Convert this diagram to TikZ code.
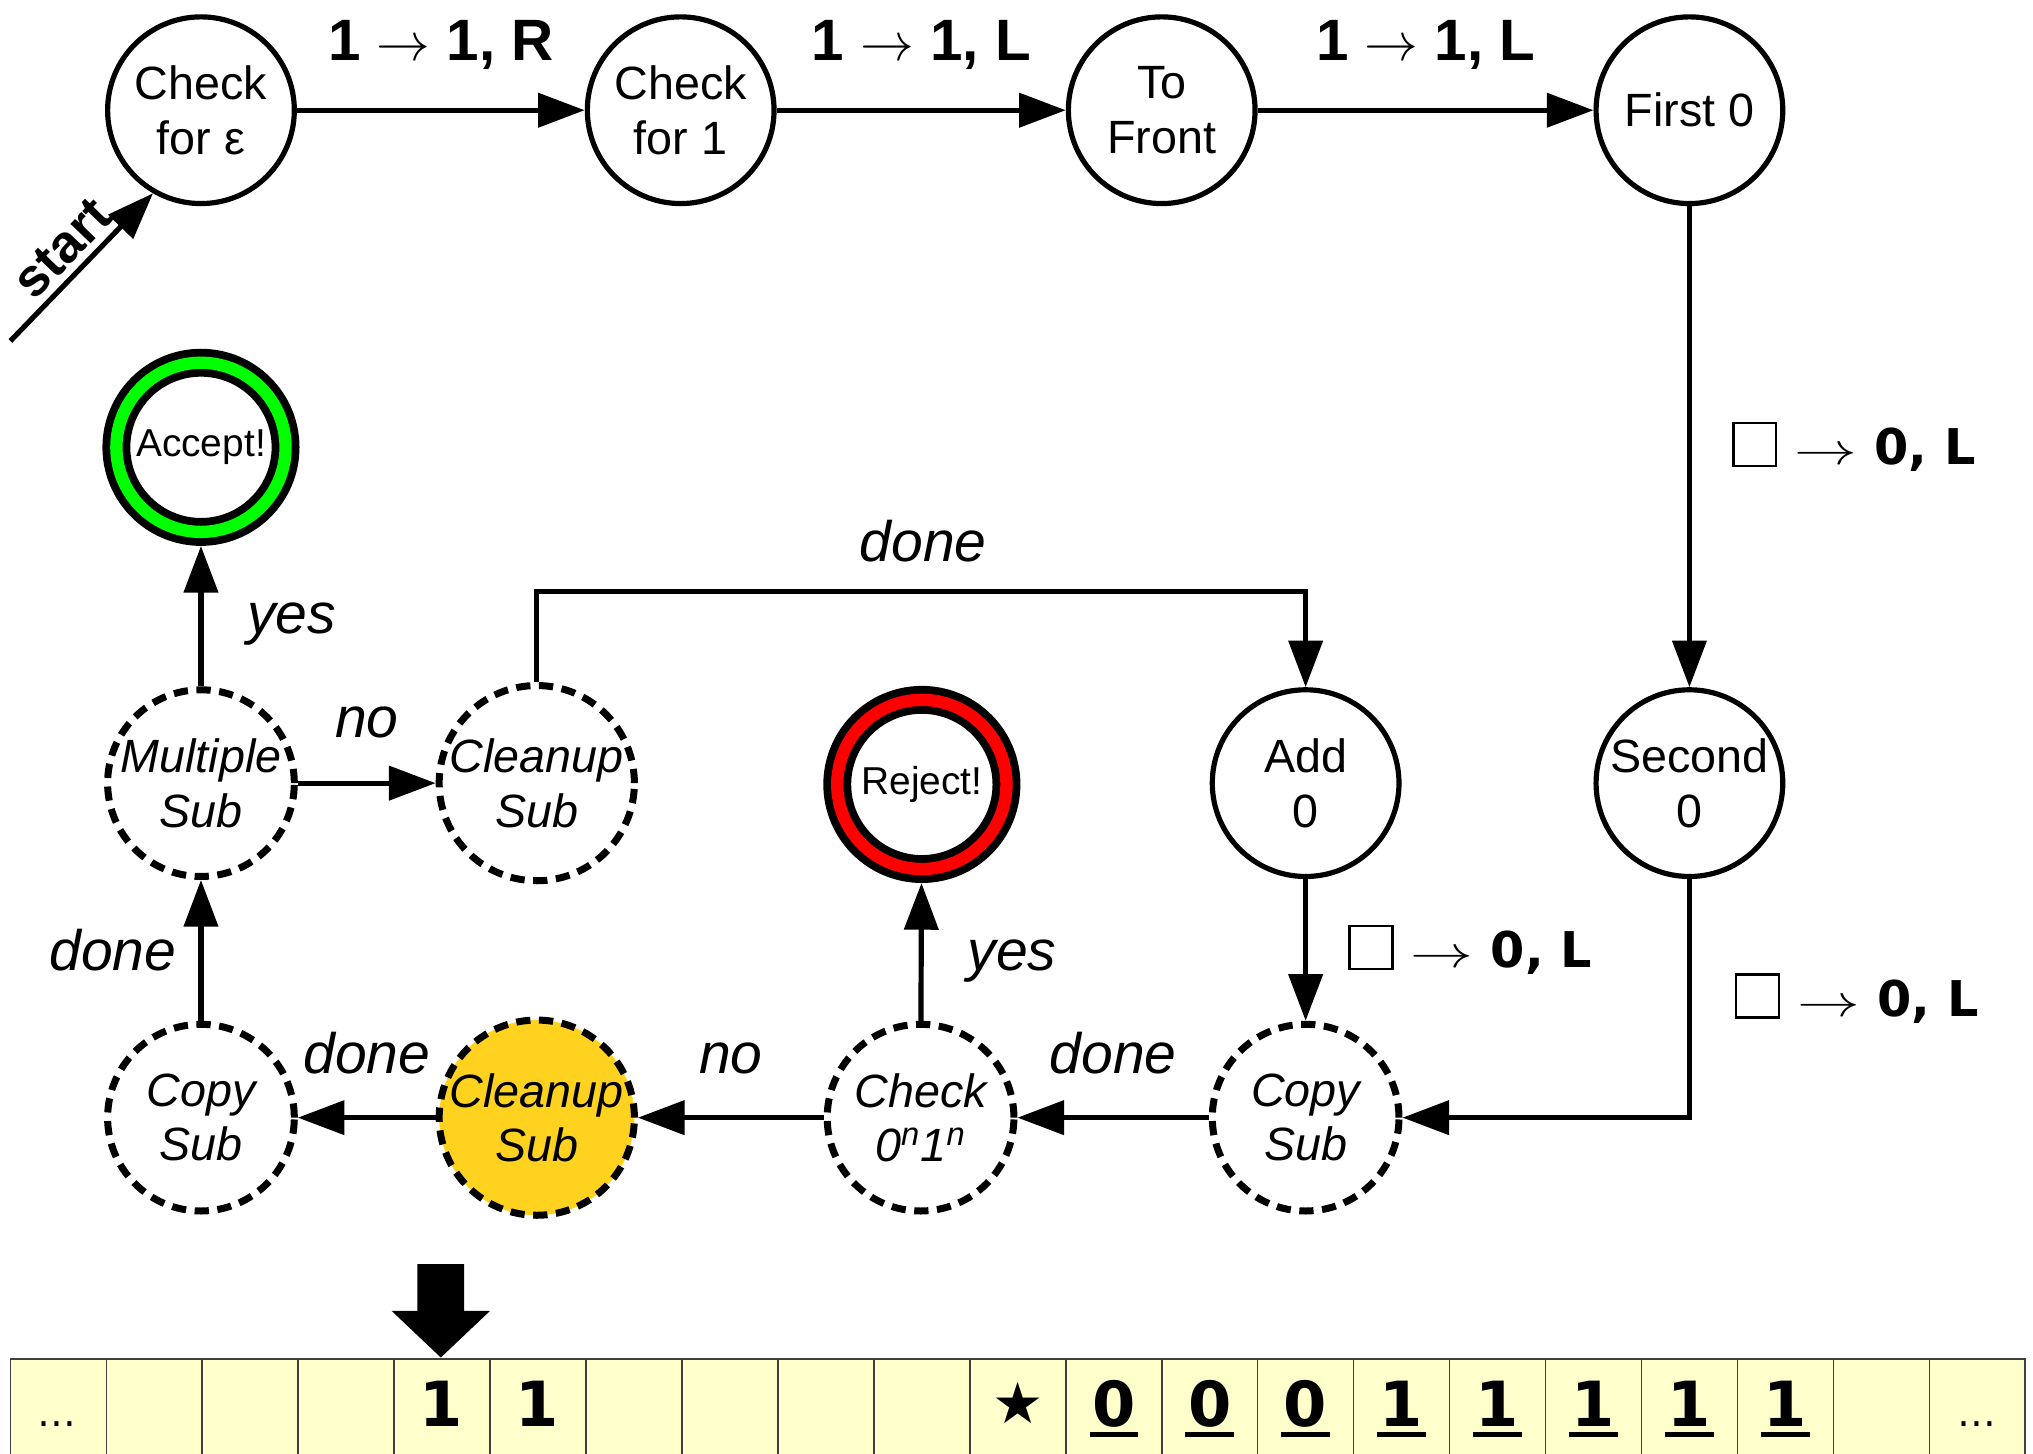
\documentclass[tikz,border=0pt]{standalone}
\usepackage{fontspec}
\usepackage{graphicx}
\setmainfont{Liberation Sans}
\newfontfamily\dvs{DejaVu Sans}
\usetikzlibrary{arrows.meta}
\definecolor{tapey}{RGB}{255,255,204}
\definecolor{gold}{RGB}{255,210,32}
\definecolor{accg}{RGB}{0,255,0}
\definecolor{rejr}{RGB}{255,0,0}
\newcommand\blankbox{{\setlength\fboxrule{0.05em}\setlength\fboxsep{0pt}\fbox{\rule{0pt}{0.82em}\hspace{0.82em}}}}
\newcommand\longarr{\scalebox{1.4}[1]{$\rightarrow$}}
\newcommand\tul[1]{\sbox0{#1}\makebox[0pt][l]{\hspace{-1pt}\rule[-4pt]{\dimexpr\wd0+2pt\relax}{1.6pt}}\usebox0}
\begin{document}
\begin{tikzpicture}[x=0.5pt, y=-0.5pt,
  state/.style={circle, draw, line width=2pt, minimum size=72pt, inner sep=0pt, align=center, font=\fontsize{18}{21}\selectfont},
  sub/.style={state, dash pattern=on 5.5pt off 3.3pt, line width=2.7pt, font=\fontsize{18}{21}\selectfont\itshape},
  final/.style={circle, draw=black, line width=3pt, double=#1, double distance=4.75pt, minimum size=65.25pt, inner sep=0pt, outer sep=5.4pt, font=\fontsize{15}{18}\selectfont},
  arr/.style={line width=2pt, -{Triangle[length=18pt,width=13pt]}},
  tlbl/.style={font=\fontsize{22.5}{27}\selectfont\bfseries},
  blbl/.style={font=\dvs\fontsize{19}{23}\selectfont\bfseries},
  ilbl/.style={font=\fontsize{22}{26}\selectfont\itshape},
  tapecell/.style={fill=tapey, draw=black!75, line width=0.6pt},
  tapedig/.style={anchor=base, inner sep=0pt, font=\dvs\fontsize{24}{28}\selectfont\bfseries},
  tapedots/.style={anchor=base, inner sep=0pt, font=\dvs\fontsize{15}{18}\selectfont}
]
\useasboundingbox (0,0) rectangle (1568,1121);

% tape
\foreach \i in {0,...,20}
  \draw[tapecell] ({8+74*\i},1048) rectangle ({8+74*(\i+1)},1140);
\node[tapedots] (dotl) at (44,1100) {…};
\node[tapedots] (dotr) at (1525,1100) {…};
\node[tapedig] (ta) at (340,1100) {1};
\node[tapedig] (tb) at (414,1100) {1};
\node[tapedig, font=\dvs\fontsize{22}{26}\selectfont] (tstar) at (785,1098) {★};
\foreach \x/\n/\d in {859/c/0, 933/d/0, 1007/e/0, 1081/f/1, 1155/g/1, 1229/h/1, 1303/i/1, 1377/j/1}
  \node[tapedig] (t\n) at (\x,1100) {\tul{\d}};
% tape head
\fill (322,975) -- (358,975) -- (358,1011) -- (378,1011) -- (340,1047) -- (302,1011) -- (322,1011) -- cycle;

% states
\node[state] (ce) at (155,85) {Check\\for ε};
\node[state] (c1) at (525,85) {Check\\for 1};
\node[state] (tf) at (896,85) {To\\Front};
\node[state] (f0) at (1303,85) {First 0};
\node[final=accg] (acc) at (155,345) {Accept!};
\node[sub] (ms) at (155,604) {Multiple\\Sub};
\node[sub] (cl1) at (414,604) {Cleanup\\Sub};
\node[final=rejr] (rej) at (711,605) {Reject!};
\node[state] (a0) at (1007,604) {Add\\0};
\node[state] (s0) at (1303,604) {Second\\0};
\node[sub] (cs1) at (155,862) {Copy\\Sub};
\node[sub, fill=gold] (cl2) at (414,862) {Cleanup\\Sub};
\node[sub] (chk) at (710,862) {Check\\0\textsuperscript{n}1\textsuperscript{n}};
\node[sub] (cs2) at (1007,862) {Copy\\Sub};

% start
\coordinate (st) at (8,263);
\draw[arr] (st) -- node[pos=0.5, sloped, above, inner sep=2.5pt, font=\fontsize{20.5}{24}\selectfont\bfseries] (lstart) {start} (ce.240);

% edges
\draw[arr] (ce) -- node[tlbl, yshift=25pt] (l1) {1 $\rightarrow$ 1, R} (c1);
\draw[arr] (c1) -- node[tlbl, yshift=25pt] (l2) {1 $\rightarrow$ 1, L} (tf);
\draw[arr] (tf) -- node[tlbl, yshift=25pt] (l3) {1 $\rightarrow$ 1, L} (f0);
\draw[arr] (f0) -- node[blbl, xshift=63.5pt] (l4) {\blankbox\ \longarr\ 0, L} (s0);
\draw[arr] (s0) |- node[blbl, pos=0.25, xshift=64.5pt] (l5) {\blankbox\ \longarr\ 0, L} (cs2);
\draw[arr] (a0) -- node[blbl, xshift=63.5pt] (l6) {\blankbox\ \longarr\ 0, L} (cs2);
\draw[arr] (cs2) -- node[ilbl, yshift=25pt] (l7) {done} (chk);
\draw[arr] (chk) -- node[ilbl, yshift=23pt] (l8) {no} (cl2);
\draw[arr] (chk) -- node[ilbl, xshift=35pt, yshift=-3.5pt] (l9) {yes} (rej);
\draw[arr] (cl2) -- node[ilbl, yshift=25pt] (l10) {done} (cs1);
\draw[arr] (cs1) -- node[ilbl, xshift=-34pt] (l11) {done} (ms);
\draw[arr] (ms) -- node[ilbl, xshift=35pt, yshift=-3pt] (l12) {yes} (acc);
\draw[arr] (ms) -- node[ilbl, yshift=23.5pt] (l13) {no} (cl1);
\coordinate (dtop) at (712,456);
\draw[arr] (cl1.north) |- (dtop) -| (a0.north);
\node[ilbl] (l14) at ([yshift=19.5pt]dtop) {done};
\end{tikzpicture}
\end{document}
